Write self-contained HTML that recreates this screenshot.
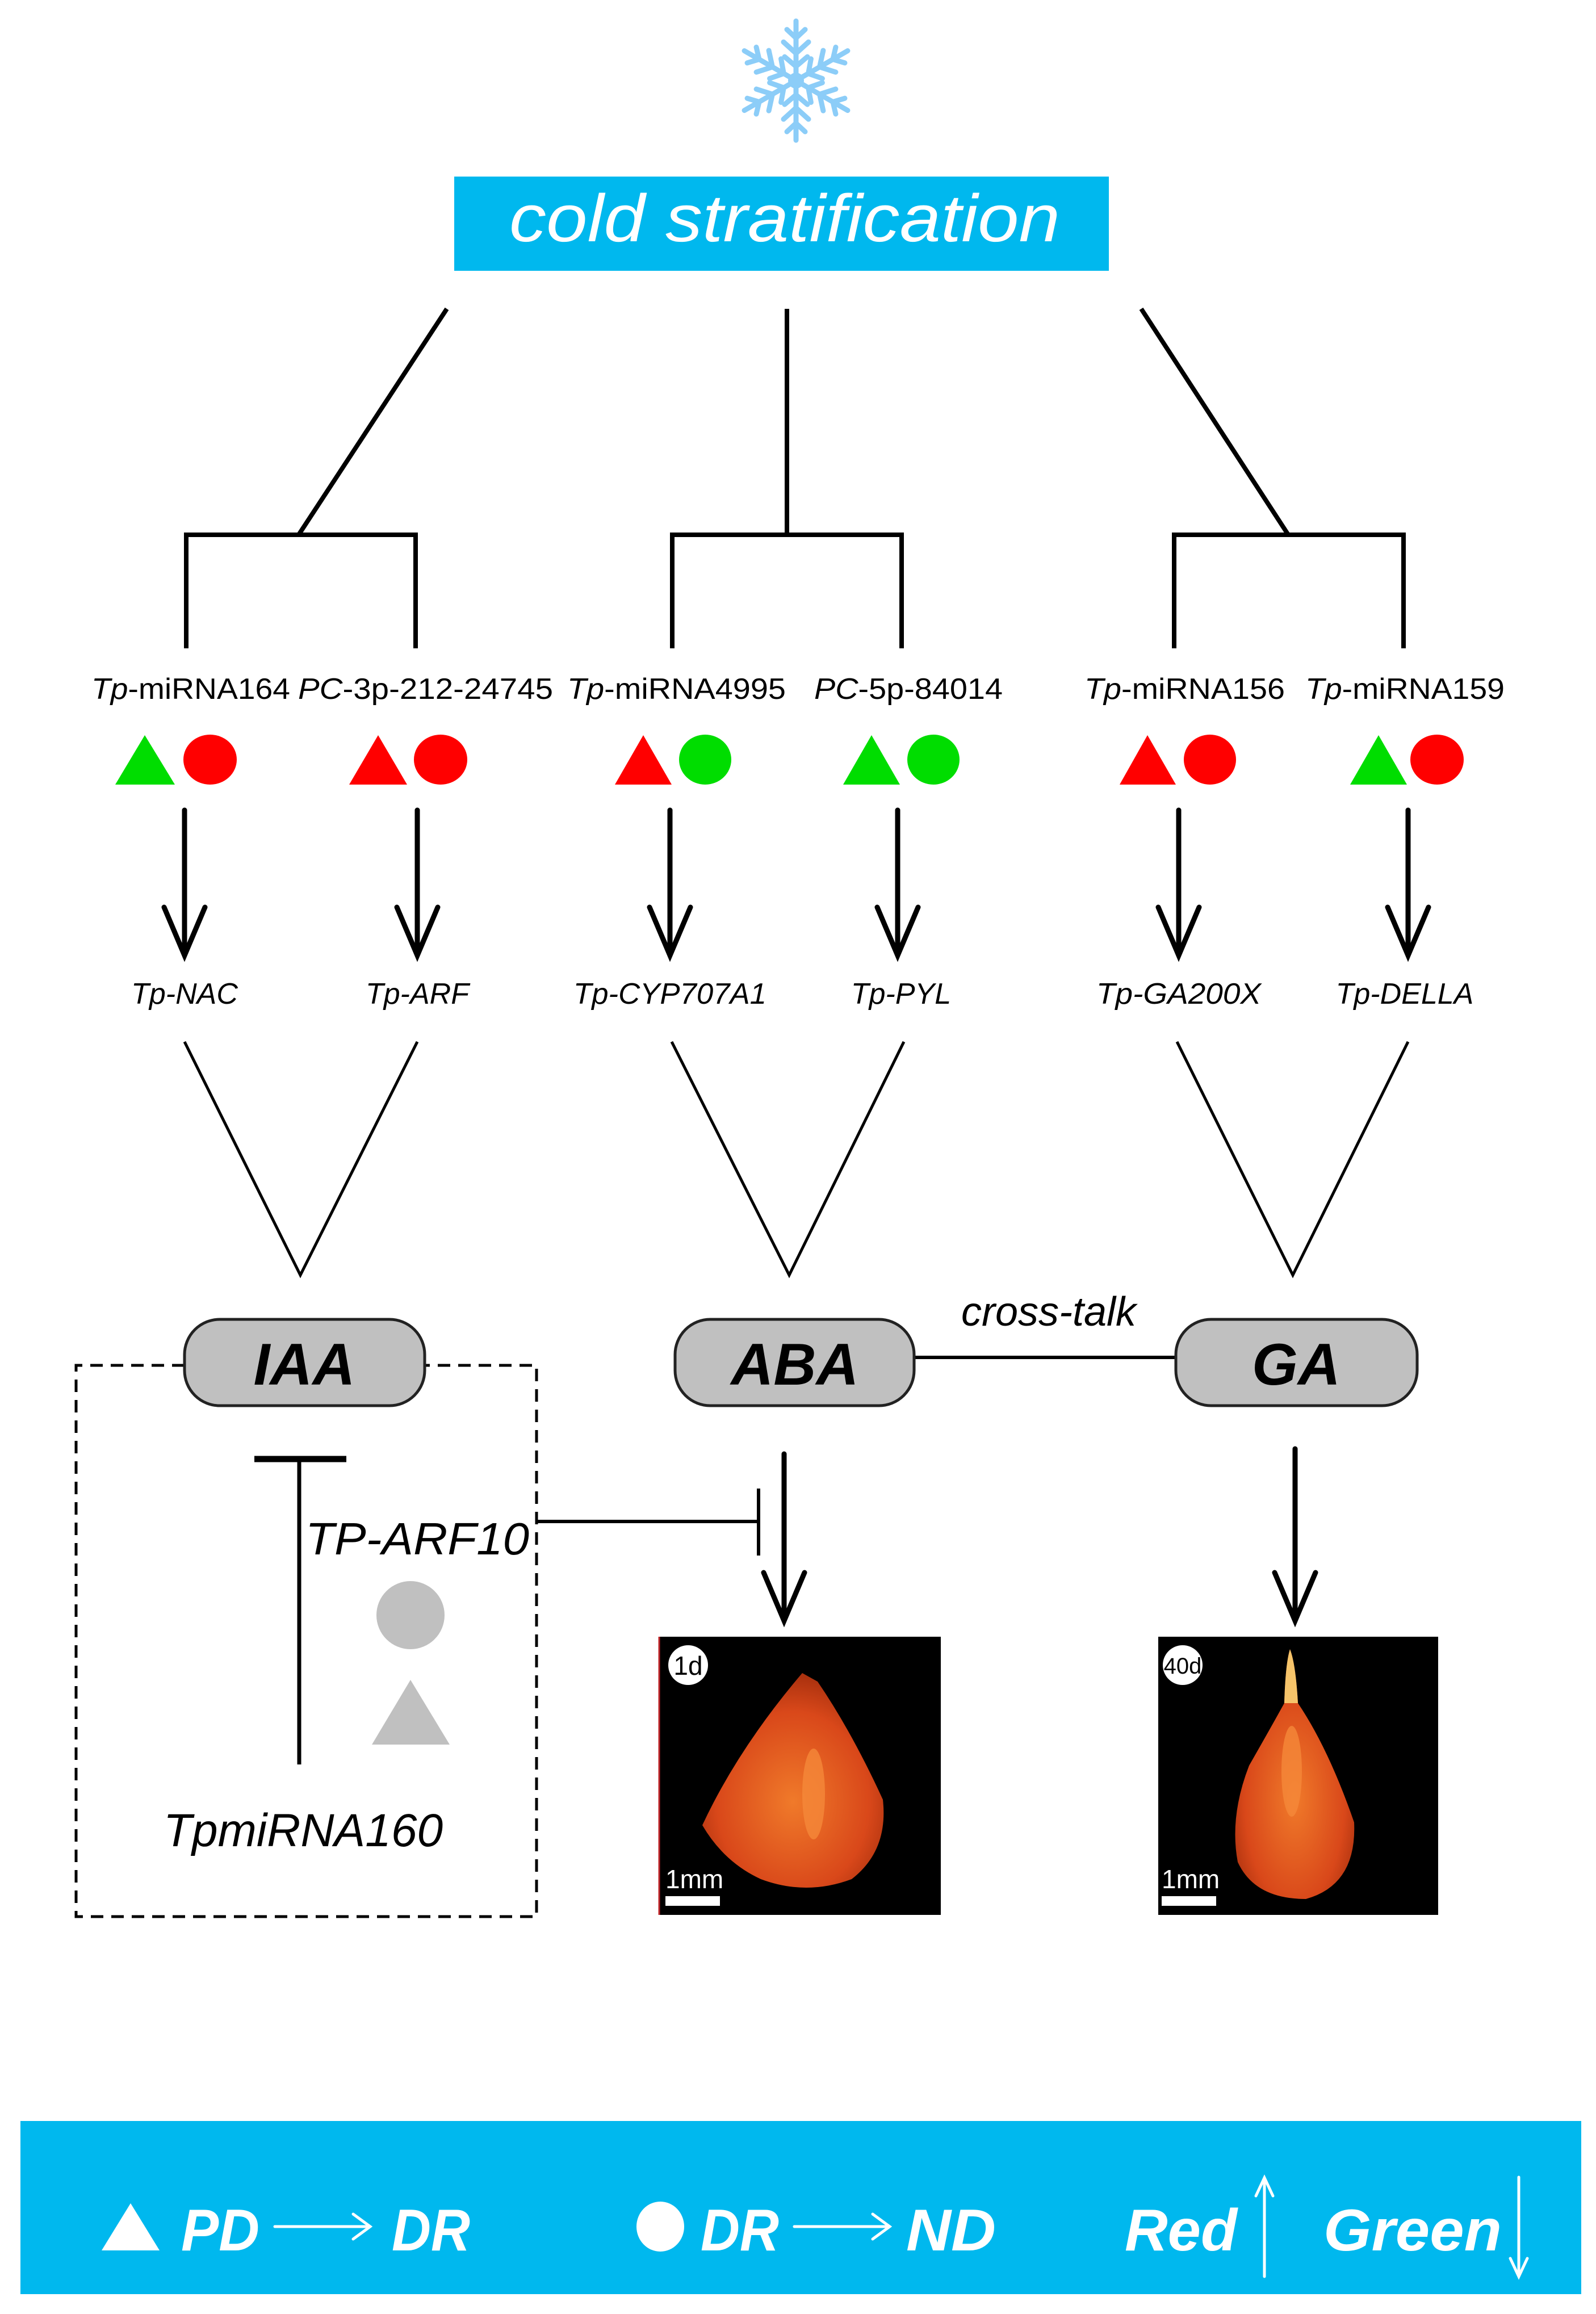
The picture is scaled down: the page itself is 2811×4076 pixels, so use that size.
<!DOCTYPE html>
<html><head><meta charset="utf-8"><style>
html,body{margin:0;padding:0;background:#fff;}
svg{display:block;}
text{font-family:"Liberation Sans","DejaVu Sans",sans-serif;}
</style></head><body>
<svg width="2811" height="4076" viewBox="0 0 2811 4076" xmlns="http://www.w3.org/2000/svg">
<defs>
<radialGradient id="sg" cx="0.5" cy="0.6" r="0.6">
<stop offset="0" stop-color="#f07a2a"/><stop offset="0.7" stop-color="#d9481a"/><stop offset="1" stop-color="#a8300e"/>
</radialGradient>
<g id="flakearm" stroke="#8ccdf8" stroke-width="9" stroke-linecap="round" fill="none">
<line x1="0" y1="0" x2="0" y2="-105"/>
<polyline points="-16,-90 0,-75 16,-90"/>
<polyline points="-22,-68 0,-48 22,-68"/>
<polyline points="-20,-42 0,-25 20,-42"/>
</g>
</defs>
<!-- snowflake -->
<g transform="translate(1402,142)">
<use href="#flakearm" transform="rotate(0)"/><use href="#flakearm" transform="rotate(60)"/>
<use href="#flakearm" transform="rotate(120)"/><use href="#flakearm" transform="rotate(180)"/>
<use href="#flakearm" transform="rotate(240)"/><use href="#flakearm" transform="rotate(300)"/>
<circle r="14" fill="#8ccdf8"/>
</g>
<!-- title -->
<rect x="800" y="311" width="1153" height="166" fill="#00b8ee"/>
<text x="1382" y="425" text-anchor="middle" font-size="118" font-style="italic" fill="#fff" textLength="970" lengthAdjust="spacingAndGlyphs">cold  stratification</text>
<!-- top branches -->
<g stroke="#000" stroke-width="8" fill="none">
<line x1="787" y1="544" x2="526" y2="942"/>
<line x1="1386" y1="544" x2="1386" y2="942"/>
<line x1="2010" y1="544" x2="2269" y2="942"/>
<polyline points="328,1142 328,942 732,942 732,1142"/>
<polyline points="1184,1142 1184,942 1588,942 1588,1142"/>
<polyline points="2068,1142 2068,942 2472,942 2472,1142"/>
</g>
<!-- miRNA labels -->
<g font-size="52" fill="#000">
<text x="161" y="1231" textLength="350" lengthAdjust="spacingAndGlyphs"><tspan font-style="italic">Tp</tspan>-miRNA164</text>
<text x="525" y="1231" textLength="449" lengthAdjust="spacingAndGlyphs"><tspan font-style="italic">PC</tspan>-3p-212-24745</text>
<text x="999" y="1231" textLength="385" lengthAdjust="spacingAndGlyphs"><tspan font-style="italic">Tp</tspan>-miRNA4995</text>
<text x="1434" y="1231" textLength="332" lengthAdjust="spacingAndGlyphs"><tspan font-style="italic">PC</tspan>-5p-84014</text>
<text x="1910" y="1231" textLength="353" lengthAdjust="spacingAndGlyphs"><tspan font-style="italic">Tp</tspan>-miRNA156</text>
<text x="2299" y="1231" textLength="351" lengthAdjust="spacingAndGlyphs"><tspan font-style="italic">Tp</tspan>-miRNA159</text>
</g>
<!-- symbols -->
<g>
<polygon points="203,1382 255,1295 308,1382" fill="#00dd00"/><ellipse cx="370" cy="1338" rx="47" ry="44" fill="#ff0000"/>
<polygon points="615,1382 666,1295 717,1382" fill="#ff0000"/><ellipse cx="776" cy="1338" rx="47" ry="44" fill="#ff0000"/>
<polygon points="1083,1382 1133,1295 1183,1382" fill="#ff0000"/><ellipse cx="1242" cy="1338" rx="46" ry="44" fill="#00dd00"/>
<polygon points="1485,1382 1535,1295 1585,1382" fill="#00dd00"/><ellipse cx="1644" cy="1338" rx="46" ry="44" fill="#00dd00"/>
<polygon points="1972,1382 2021,1295 2071,1382" fill="#ff0000"/><ellipse cx="2131" cy="1338" rx="46" ry="44" fill="#ff0000"/>
<polygon points="2378,1382 2428,1295 2478,1382" fill="#00dd00"/><ellipse cx="2531" cy="1338" rx="47" ry="44" fill="#ff0000"/>
</g>
<!-- down arrows -->
<g stroke="#000" stroke-width="9" fill="none" stroke-linecap="round" stroke-linejoin="miter">
<line x1="325" y1="1427" x2="325" y2="1680"/><polyline points="289,1598 325,1683 361,1598"/>
<line x1="735" y1="1427" x2="735" y2="1680"/><polyline points="699,1598 735,1683 771,1598"/>
<line x1="1180" y1="1427" x2="1180" y2="1680"/><polyline points="1144,1598 1180,1683 1216,1598"/>
<line x1="1581" y1="1427" x2="1581" y2="1680"/><polyline points="1545,1598 1581,1683 1617,1598"/>
<line x1="2076" y1="1427" x2="2076" y2="1680"/><polyline points="2040,1598 2076,1683 2112,1598"/>
<line x1="2480" y1="1427" x2="2480" y2="1680"/><polyline points="2444,1598 2480,1683 2516,1598"/>
</g>
<!-- gene labels -->
<g font-size="52" font-style="italic" fill="#000" text-anchor="middle">
<text x="325" y="1768">Tp-NAC</text>
<text x="735" y="1768">Tp-ARF</text>
<text x="1180" y="1768" textLength="340" lengthAdjust="spacingAndGlyphs">Tp-CYP707A1</text>
<text x="1587" y="1768">Tp-PYL</text>
<text x="2076" y="1768" textLength="290" lengthAdjust="spacingAndGlyphs">Tp-GA200X</text>
<text x="2474" y="1768">Tp-DELLA</text>
</g>
<!-- V lines -->
<g stroke="#000" stroke-width="5" fill="none">
<polyline points="325,1835 529,2246 735,1835"/>
<polyline points="1183,1835 1390,2246 1592,1835"/>
<polyline points="2073,1835 2277,2246 2480,1835"/>
</g>
<!-- dashed box -->
<g stroke="#000" stroke-width="5" fill="none" stroke-dasharray="22,14">
<polyline points="325,2405 134,2405 134,3376 945,3376 945,2405 748,2405"/>
</g>
<!-- crosstalk -->
<line x1="1610" y1="2391" x2="2071" y2="2391" stroke="#000" stroke-width="6"/>
<text x="1847" y="2335" text-anchor="middle" font-size="72" font-style="italic">cross-talk</text>
<!-- hormone pills -->
<g fill="#c0c0c0" stroke="#222" stroke-width="5">
<rect x="325" y="2324" width="423" height="152" rx="62"/>
<rect x="1189" y="2324" width="421" height="152" rx="62"/>
<rect x="2071" y="2324" width="425" height="152" rx="62"/>
</g>
<g font-size="104" font-style="italic" font-weight="bold" text-anchor="middle" fill="#000">
<text x="536" y="2439">IAA</text>
<text x="1400" y="2439">ABA</text>
<text x="2283" y="2439">GA</text>
</g>
<!-- IAA inhibition -->
<g stroke="#000" fill="none">
<line x1="448" y1="2570" x2="610" y2="2570" stroke-width="11"/>
<line x1="527" y1="2570" x2="527" y2="3108" stroke-width="7"/>
<line x1="945" y1="2680" x2="1336" y2="2680" stroke-width="6"/>
<line x1="1336" y1="2622" x2="1336" y2="2740" stroke-width="6"/>
</g>
<text x="538" y="2738" font-size="80" font-style="italic" textLength="394" lengthAdjust="spacingAndGlyphs">TP-ARF10</text>
<circle cx="723" cy="2845" r="60" fill="#c0c0c0"/>
<polygon points="655,3073 723,2959 792,3073" fill="#c0c0c0"/>
<text x="534" y="3252" text-anchor="middle" font-size="82" font-style="italic">TpmiRNA160</text>
<!-- lower arrows -->
<g stroke="#000" stroke-width="9" fill="none" stroke-linecap="round">
<line x1="1381" y1="2561" x2="1381" y2="2852"/><polyline points="1345,2770 1381,2855 1417,2770"/>
<line x1="2281" y1="2552" x2="2281" y2="2852"/><polyline points="2245,2770 2281,2855 2317,2770"/>
</g>
<!-- seed image 1d -->
<rect x="1160" y="2883" width="497" height="490" fill="#000"/>
<line x1="1161" y1="2883" x2="1161" y2="3373" stroke="#c0262a" stroke-width="3"/>
<path d="M1413,2947 L1440,2962 Q1500,3050 1555,3170 Q1565,3260 1500,3310 Q1420,3340 1340,3310 Q1275,3280 1237,3215 Q1300,3080 1413,2947 Z" fill="url(#sg)"/>
<ellipse cx="1433" cy="3160" rx="20" ry="80" fill="#f5883a" opacity="0.8"/>
<circle cx="1212" cy="2933" r="35" fill="#fff"/>
<text x="1212" y="2950" text-anchor="middle" font-family="Liberation Serif" font-size="46" fill="#000">1d</text>
<text x="1172" y="3326" font-family="Liberation Serif" font-size="46" fill="#fff">1mm</text>
<rect x="1172" y="3340" width="96" height="17" fill="#fff"/>
<!-- seed image 40d -->
<rect x="2040" y="2883" width="493" height="490" fill="#000"/>
<path d="M2272,2905 Q2282,2930 2286,3000 Q2340,3080 2385,3210 Q2390,3320 2300,3345 Q2210,3345 2180,3280 Q2165,3200 2200,3110 Q2240,3040 2262,3000 Q2264,2930 2272,2905 Z" fill="url(#sg)"/>
<path d="M2272,2905 Q2282,2930 2286,3000 L2262,3000 Q2264,2930 2272,2905 Z" fill="#f6c46a"/>
<ellipse cx="2275" cy="3120" rx="18" ry="80" fill="#f5883a" opacity="0.8"/>
<circle cx="2083" cy="2933" r="35" fill="#fff"/>
<text x="2083" y="2948" text-anchor="middle" font-family="Liberation Serif" font-size="40" fill="#000">40d</text>
<text x="2046" y="3326" font-family="Liberation Serif" font-size="46" fill="#fff">1mm</text>
<rect x="2046" y="3340" width="96" height="17" fill="#fff"/>
<!-- legend band -->
<rect x="36" y="3736" width="2749" height="305" fill="#00b8ee"/>
<g fill="#fff" font-size="104" font-style="italic" font-weight="bold">
<polygon points="179,3964 230,3881 281,3964"/>
<text x="319" y="3964" textLength="138" lengthAdjust="spacingAndGlyphs">PD</text>
<text x="690" y="3964" textLength="138" lengthAdjust="spacingAndGlyphs">DR</text>
<ellipse cx="1163" cy="3922" rx="42" ry="44"/>
<text x="1234" y="3964" textLength="138" lengthAdjust="spacingAndGlyphs">DR</text>
<text x="1596" y="3964" textLength="158" lengthAdjust="spacingAndGlyphs">ND</text>
<text x="1981" y="3964" textLength="198" lengthAdjust="spacingAndGlyphs">Red</text>
<text x="2331" y="3964" textLength="314" lengthAdjust="spacingAndGlyphs">Green</text>
</g>
<g stroke="#fff" stroke-width="5" fill="none" stroke-linecap="round">
<line x1="484" y1="3922" x2="650" y2="3922"/><polyline points="622,3900 652,3922 622,3944"/>
<line x1="1399" y1="3922" x2="1565" y2="3922"/><polyline points="1537,3900 1567,3922 1537,3944"/>
<line x1="2227" y1="3838" x2="2227" y2="4010"/><polyline points="2212,3868 2227,3836 2242,3868"/>
<line x1="2675" y1="3835" x2="2675" y2="4008"/><polyline points="2660,3978 2675,4010 2690,3978"/>
</g>
</svg>
</body></html>
